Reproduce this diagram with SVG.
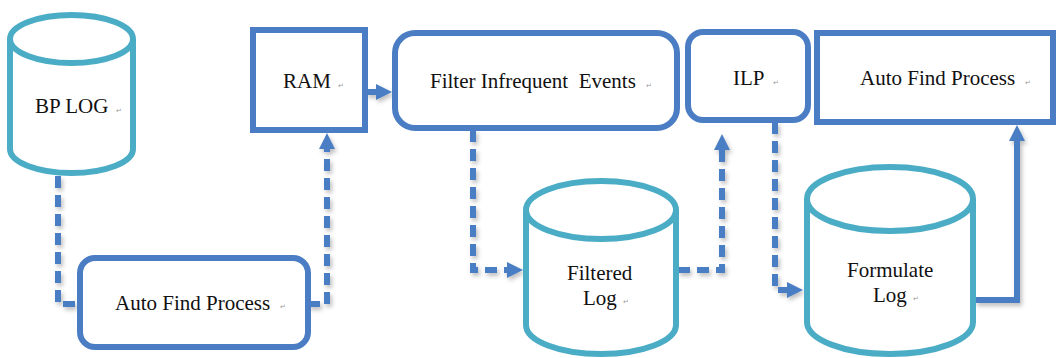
<svg xmlns="http://www.w3.org/2000/svg" width="1057" height="358" viewBox="0 0 1057 358">
<style>
.box{fill:#fff;stroke:#4A7DC4;stroke-width:6}
.cyl{fill:#fff;stroke:#4BACC6;stroke-width:6}
.t{font-family:"Liberation Serif","Times New Roman",serif;font-size:21px;fill:#111;white-space:pre}
.pm{font-family:"DejaVu Sans",sans-serif;font-size:7px;fill:#999}
.c{fill:none;stroke:#4A7DC4;stroke-width:6}
.d{stroke-dasharray:12 7}
</style>
<defs>
<marker id="ah" markerUnits="userSpaceOnUse" markerWidth="16" markerHeight="16" refX="6" refY="8" orient="auto">
<path d="M0,0 L16,8 L0,16 z" fill="#4A7DC4"/>
</marker>
<filter id="sh" x="-10%" y="-10%" width="120%" height="120%">
<feDropShadow dx="2" dy="3" stdDeviation="2" flood-color="#000" flood-opacity="0.25"/>
</filter>
</defs>
<rect width="1057" height="358" fill="#fff"/>
<g id="connectors" filter="url(#sh)">
<path class="c d" d="M58,176 V304 H80"/>
<path class="c d" d="M308,304 H327 V143" marker-end="url(#ah)"/>
<path class="c" d="M366,92 H382" marker-end="url(#ah)"/>
<path class="c d" d="M473,130 V270 H513" marker-end="url(#ah)"/>
<path class="c d" d="M678,270 H722 V144" marker-end="url(#ah)"/>
<path class="c d" d="M775,122 V290 H793" marker-end="url(#ah)"/>
<path class="c" d="M975,300 H1017 V135" marker-end="url(#ah)"/>
</g>
<g id="bp-log">
<path class="cyl" d="M10,39 V149 A61.5,24 0 0 0 133,149 V39"/>
<ellipse class="cyl" cx="71.5" cy="39" rx="61.5" ry="24"/>
<text class="t" x="35" y="113">BP LOG</text>
<text class="pm" x="116" y="113">↵</text>
</g>
<g id="auto-find-process-1">
<rect class="box" x="80" y="258" width="228" height="89" rx="15"/>
<text class="t" x="115" y="310">Auto Find Process</text>
<text class="pm" x="280" y="309">↵</text>
</g>
<g id="ram">
<rect class="box" x="253" y="30" width="112" height="100"/>
<text class="t" x="283" y="88">RAM</text>
<text class="pm" x="338" y="88">↵</text>
</g>
<g id="filter-infrequent-events">
<rect class="box" x="395" y="33" width="282" height="95" rx="20"/>
<text class="t" x="430" y="88">Filter Infrequent  Events</text>
<text class="pm" x="646" y="88">↵</text>
</g>
<g id="filtered-log">
<path class="cyl" d="M526,210 V325 A75,29 0 0 0 676,325 V210"/>
<ellipse class="cyl" cx="601" cy="210" rx="75" ry="29"/>
<text class="t" x="567" y="280">Filtered</text>
<text class="t" x="583" y="305">Log</text>
<text class="pm" x="623" y="304">↵</text>
</g>
<g id="ilp">
<rect class="box" x="688" y="32" width="120" height="88" rx="15"/>
<text class="t" x="733" y="85">ILP</text>
<text class="pm" x="773" y="85">↵</text>
</g>
<g id="auto-find-process-2">
<rect class="box" x="817" y="33" width="236" height="89"/>
<text class="t" x="860" y="85">Auto Find Process</text>
<text class="pm" x="1025" y="85">↵</text>
</g>
<g id="formulate-log">
<path class="cyl" d="M807,199 V322 A83,32 0 0 0 973,322 V199"/>
<ellipse class="cyl" cx="890" cy="199" rx="83" ry="32"/>
<text class="t" x="847" y="277">Formulate</text>
<text class="t" x="873" y="302">Log</text>
<text class="pm" x="913" y="301">↵</text>
</g>
</svg>
